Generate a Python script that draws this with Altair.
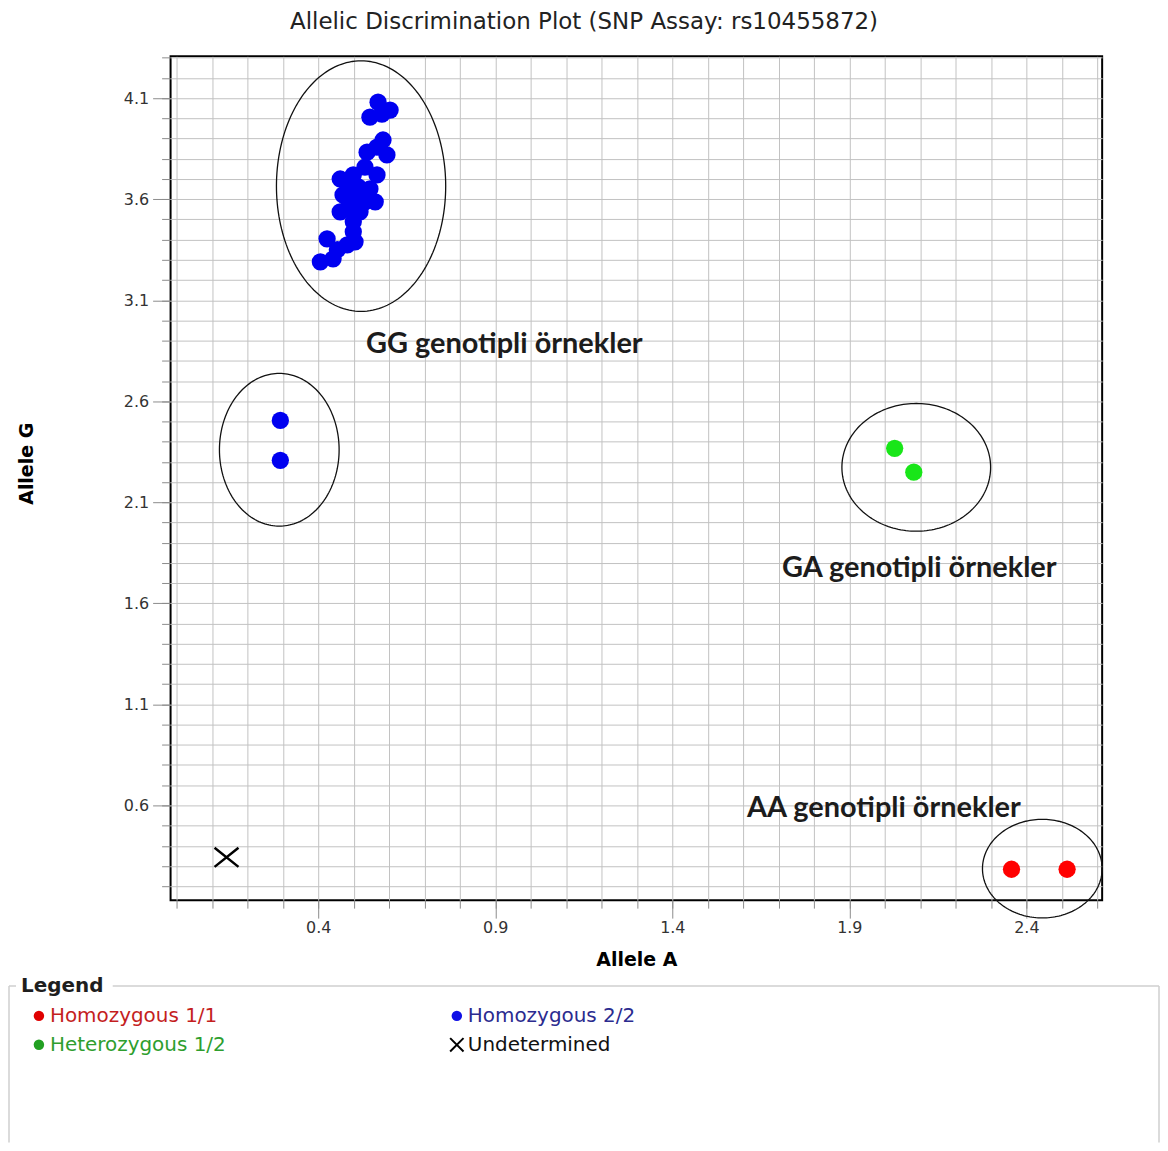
import altair as alt
import numpy as np
import pandas as pd

TITLE = "Allelic Discrimination Plot (SNP Assay: rs10455872)"

# ---- data (Allele A, Allele G) ----
hom22_x = [0.569, 0.603, 0.546, 0.583, 0.594, 0.538, 0.532, 0.462, 0.499, 0.566,
           0.513, 0.546, 0.470, 0.490, 0.527, 0.561, 0.482, 0.518, 0.462, 0.499,
           0.499, 0.425, 0.482, 0.406, 0.442, 0.566, 0.485, 0.532, 0.504, 0.454,
           0.510, 0.580, 0.293, 0.293]
hom22_y = [4.080, 4.041, 4.006, 3.893, 3.819, 3.833, 3.759, 3.700, 3.720, 3.720,
           3.661, 3.651, 3.621, 3.611, 3.621, 3.587, 3.552, 3.537, 3.537, 3.488,
           3.439, 3.404, 3.374, 3.290, 3.305, 3.858, 3.685, 3.587, 3.389, 3.350,
           3.562, 4.021, 2.505, 2.308]
het_x = [2.028, 2.082]
het_y = [2.367, 2.249]
hom11_x = [2.358, 2.515]
hom11_y = [0.284, 0.284]
und_x = [0.141]
und_y = [0.343]

# hand-drawn cluster ellipses: centre and radii in data units
ell_cx = [0.521, 0.290, 2.089, 2.445]
ell_cy = [3.665, 2.360, 2.273, 0.287]
ell_rx = [0.239, 0.169, 0.210, 0.169]
ell_ry = [0.620, 0.378, 0.316, 0.244]

ann_text = ["GG genotipli örnekler", "GA genotipli örnekler", "AA genotipli örnekler"]
ann_x = [0.535, 1.710, 1.611]
ann_y = [2.841, 1.731, 0.541]

calls = ["Homozygous 1/1", "Heterozygous 1/2", "Homozygous 2/2"]
call_colors = ["#ff0000", "#19e619", "#0000f0"]

x_major = [0.4, 0.9, 1.4, 1.9, 2.4]
y_major = [0.6, 1.1, 1.6, 2.1, 2.6, 3.1, 3.6, 4.1]
x_minor = [round(i / 10, 1) for i in range(0, 27)]
y_minor = [round(i / 10, 1) for i in range(2, 44)]

leg_labels = ["Homozygous 1/1", "Homozygous 2/2", "Heterozygous 1/2", "Undetermined"]
leg_col = [0, 1, 0, 1]
leg_row = [0, 0, 1, 1]
leg_sym = ["dot", "dot", "dot", "x"]
leg_dot = ["#e00000", "#1010e6", "#22a022", "#000000"]
leg_txt = ["#c41e1e", "#2b2b8f", "#2e9e2e", "#111111"]

# ---- tables ----
pts = pd.DataFrame({
    "A": hom22_x + het_x + hom11_x,
    "G": hom22_y + het_y + hom11_y,
    "call": ["Homozygous 2/2"] * len(hom22_x) + ["Heterozygous 1/2"] * len(het_x)
            + ["Homozygous 1/1"] * len(hom11_x),
})
und = pd.DataFrame({"A": und_x, "G": und_y})
ann = pd.DataFrame({"A": ann_x, "G": ann_y, "t": ann_text})

rows = []
t = np.linspace(0, 2 * np.pi, 181)
for i, (cx, cy, rx, ry) in enumerate(zip(ell_cx, ell_cy, ell_rx, ell_ry)):
    for k, tt in enumerate(t):
        rows.append({"eid": i, "k": k, "A": cx + rx * np.cos(tt), "G": cy + ry * np.sin(tt)})
ell = pd.DataFrame(rows)

leg = pd.DataFrame({"label": leg_labels, "col": leg_col, "row": leg_row,
                    "sym": leg_sym, "dcol": leg_dot, "tcol": leg_txt})
one = pd.DataFrame({"k": [0]})

# ---- scales & axes ----
xs = alt.Scale(domain=[-0.017, 2.614], nice=False, zero=False)
ys = alt.Scale(domain=[0.131, 4.307], nice=False, zero=False)

TICK = "#8c8c8c"
GRID = "#c2c2c2"

ax_x_minor = alt.Axis(orient="bottom", values=x_minor, labels=False, tickSize=8,
                      tickColor=TICK, grid=True, gridColor=GRID, gridWidth=1,
                      domain=False, title=None)
ax_y_minor = alt.Axis(orient="left", values=y_minor, labels=False, tickSize=9,
                      tickColor=TICK, grid=True, gridColor=GRID, gridWidth=1,
                      domain=False, title=None)
ax_x_major = alt.Axis(orient="bottom", values=x_major, format=".1f", tickSize=18,
                      tickColor=TICK, labelFont="DejaVu Sans", labelFontSize=16,
                      labelColor="#333333", labelPadding=1, labelOverlap=False,
                      grid=False, domain=False, title="Allele A",
                      titleFont="DejaVu Sans", titleFontSize=19, titleFontWeight="bold",
                      titleColor="#000000", titleY=51)
ax_y_major = alt.Axis(orient="left", values=y_major, format=".1f", tickSize=18,
                      tickColor=TICK, labelFont="DejaVu Sans", labelFontSize=16,
                      labelColor="#333333", labelPadding=4, labelOverlap=False,
                      grid=False, domain=False, title="Allele G",
                      titleFont="DejaVu Sans", titleFontSize=19, titleFontWeight="bold",
                      titleColor="#000000", titleX=-134, titleY=408)

ell_layer = alt.Chart(ell).mark_line(color="#111111", strokeWidth=1.3).encode(
    x=alt.X("A:Q", scale=xs, axis=ax_x_minor),
    y=alt.Y("G:Q", scale=ys, axis=ax_y_minor),
    detail="eid:N",
    order="k:Q",
)
pt_layer = alt.Chart(pts).mark_circle(size=300, opacity=1).encode(
    x=alt.X("A:Q", scale=xs, axis=ax_x_major),
    y=alt.Y("G:Q", scale=ys, axis=ax_y_major),
    color=alt.Color("call:N", scale=alt.Scale(domain=calls, range=call_colors), legend=None),
)
und_layer = alt.Chart(und).mark_point(
    shape="M-1,-0.8L1,0.8M-1,0.8L1,-0.8", size=576, strokeWidth=2.5,
    color="black", filled=False, opacity=1,
).encode(
    x=alt.X("A:Q", scale=xs, axis=None),
    y=alt.Y("G:Q", scale=ys, axis=None),
)
ann_layer = alt.Chart(ann).mark_text(
    align="left", baseline="alphabetic", font="Lato", fontWeight="bold",
    fontSize=29, color="#1c1c1c",
).encode(
    x=alt.X("A:Q", scale=xs, axis=None),
    y=alt.Y("G:Q", scale=ys, axis=None),
    text="t:N",
)

main = alt.layer(ell_layer, pt_layer, und_layer, ann_layer).resolve_axis(
    x="independent", y="independent"
).properties(
    width=934, height=846,
    view=alt.ViewBackground(stroke="black", strokeWidth=2),
)

# ---- legend panel ----
BOX = "#cfcfcf"
lxs = alt.Scale(domain=[0, 1], range=[-132, 287])
lys = alt.Scale(domain=[0, 1], range=[30, 59])

box_top = alt.Chart(one).mark_rule(color=BOX, strokeWidth=1.5).encode(
    x=alt.value(-162), x2=alt.value(991), y=alt.value(0))
box_left = alt.Chart(one).mark_rule(color=BOX, strokeWidth=1.5).encode(
    x=alt.value(-162), y=alt.value(0), y2=alt.value(157))
box_right = alt.Chart(one).mark_rule(color=BOX, strokeWidth=1.5).encode(
    x=alt.value(991), y=alt.value(0), y2=alt.value(157))
title_bg = alt.Chart(one).mark_rect(color="white").encode(
    x=alt.value(-155), x2=alt.value(-58), y=alt.value(-3), y2=alt.value(3))
leg_title = alt.Chart(one).mark_text(
    text="Legend", align="left", baseline="middle", font="DejaVu Sans",
    fontSize=20, fontWeight="bold", color="#1e1e1e",
).encode(x=alt.value(-150), y=alt.value(0))

dots = alt.Chart(leg).transform_filter("datum.sym == 'dot'").mark_circle(
    size=110, opacity=1).encode(
    x=alt.X("col:Q", scale=lxs, axis=None),
    y=alt.Y("row:Q", scale=lys, axis=None),
    color=alt.Color("dcol:N", scale=None),
)
xsym = alt.Chart(leg).transform_filter("datum.sym == 'x'").mark_point(
    shape="M-1,-1L1,1M-1,1L1,-1", size=180, strokeWidth=2, color="black",
    filled=False, opacity=1).encode(
    x=alt.X("col:Q", scale=lxs, axis=None),
    y=alt.Y("row:Q", scale=lys, axis=None),
)
labels = alt.Chart(leg).mark_text(
    align="left", baseline="middle", dx=11, font="DejaVu Sans", fontSize=20,
).encode(
    x=alt.X("col:Q", scale=lxs, axis=None),
    y=alt.Y("row:Q", scale=lys, axis=None),
    text="label:N",
    color=alt.Color("tcol:N", scale=None),
)

legend_panel = alt.layer(box_top, box_left, box_right, title_bg, leg_title,
                         dots, xsym, labels).properties(
    width=934, height=157,
    view=alt.ViewBackground(strokeOpacity=0),
)

chart = alt.vconcat(main, legend_panel, spacing=86, bounds="flush").properties(
    title=alt.TitleParams(
        text=TITLE, font="DejaVu Sans", fontSize=23, fontWeight="normal",
        color="#222222", anchor="middle", frame="bounds", offset=21,
    ),
    padding={"top": 2, "left": 0, "right": 0, "bottom": 0},
)

chart.save("out.html", embed_options={"renderer": "svg", "actions": False})
